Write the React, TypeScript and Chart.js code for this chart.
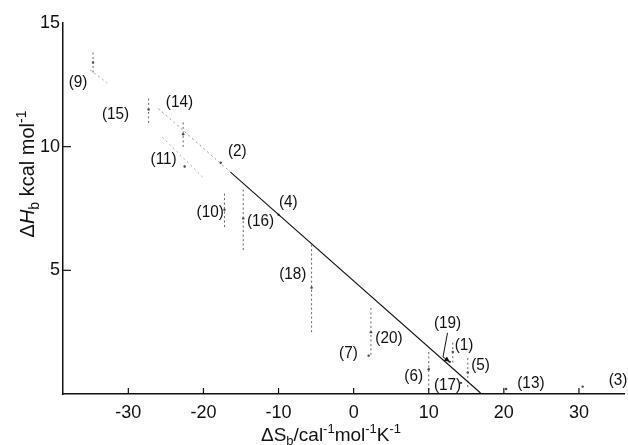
import React, { useEffect, useRef } from "react";
import { Chart, registerables } from "chart.js";

Chart.register(...registerables);

// ---- data ----
const pointLabels = ["(1)", "(2)", "(3)", "(4)", "(5)", "(6)", "(7)", "(9)", "(10)", "(11)", "(13)", "(14)", "(15)", "(16)", "(17)", "(18)", "(19)", "(20)"];
const dS = [13.2, -17.7, 30.5, -10.0, 15.2, 10.0, 2.0, -34.7, -17.2, -22.5, 20.3, -22.7, -27.3, -14.7, 14.3, -5.6, 12.8, 2.3];
const dH = [1.7, 9.35, 0.3, 7.25, 0.87, 1.0, 1.55, 13.4, 7.45, 9.2, 0.2, 10.5, 11.5, 7.1, 0.45, 4.3, 1.3, 2.5];
const errLo = [1.27, null, null, null, 0.28, 0.16, null, 13.0, 6.75, null, null, 9.99, 10.96, 5.82, null, 2.5, null, 1.58];
const errHi = [2.1, null, null, null, 1.46, 1.78, null, 13.83, 8.13, null, null, 11.08, 12.0, 8.37, null, 6.1, null, 3.48];
const labelS = [14.7, -15.5, 35.2, -8.7, 16.9, 8.0, -0.7, -36.7, -19.1, -25.3, 23.6, -23.2, -31.7, -12.4, 12.5, -8.1, 12.5, 4.7];
const labelH = [1.98, 9.8, 0.57, 7.76, 1.17, 0.73, 1.66, 12.6, 7.35, 9.5, 0.44, 11.8, 11.3, 7.0, 0.36, 4.85, 2.87, 2.26];

// faint diagonal error marks
const diagS = [[-35.1, -32.8], [-25.5, -20.1]];
const diagH = [[13.1, 12.58], [10.39, 8.77]];

// regression line (solid) and its faint extension
const fitS = [-16.4, 16.9];
const fitH = [8.97, 0.04];
const extS = [-26.0, -16.4];
const extH = [11.54, 8.97];

// arrow from label (19)
const arrowS = [12.5, 11.9, 12.8];
const arrowH = [2.47, 1.5, 1.3];

const xTicks = [-30, -20, -10, 0, 10, 20, 30];
const yTicks = [5, 10, 15];
const xMin = -38.7, xMax = 36, yMin = 0, yMax = 15;

type Part = { t: string; it?: boolean; sub?: boolean; sup?: boolean };

function drawRich(ctx: CanvasRenderingContext2D, parts: Part[], size: number, cx: number, cy: number, rot: number) {
  const fam = '"Liberation Sans", Arial, sans-serif';
  const fontFor = (p: Part) => `${p.it ? "italic " : ""}${p.sub || p.sup ? Math.round(size * 0.68) : size}px ${fam}`;
  let total = 0;
  const widths = parts.map((p) => {
    ctx.font = fontFor(p);
    const w = ctx.measureText(p.t).width;
    total += w;
    return w;
  });
  ctx.save();
  ctx.translate(cx, cy);
  ctx.rotate(rot);
  ctx.textBaseline = "alphabetic";
  ctx.textAlign = "left";
  ctx.fillStyle = "#111";
  let x = -total / 2;
  const base = size * 0.35;
  parts.forEach((p, i) => {
    ctx.font = fontFor(p);
    let dy = base;
    if (p.sub) dy = base + size * 0.25;
    if (p.sup) dy = base - size * 0.42;
    ctx.fillText(p.t, x, dy);
    x += widths[i];
  });
  ctx.restore();
}

const annotPlugin = {
  id: "annot",
  afterDatasetsDraw(chart: any) {
    const ctx: CanvasRenderingContext2D = chart.ctx;
    const xs = chart.scales.x;
    const ys = chart.scales.y;
    ctx.save();
    // inward tick marks
    ctx.strokeStyle = "#111";
    ctx.lineWidth = 1.2;
    xTicks.forEach((v) => {
      const px = xs.getPixelForValue(v);
      ctx.beginPath();
      ctx.moveTo(px, ys.bottom);
      ctx.lineTo(px, ys.bottom - 6);
      ctx.stroke();
    });
    yTicks.slice(0, 2).forEach((v) => {
      const py = ys.getPixelForValue(v);
      ctx.beginPath();
      ctx.moveTo(xs.left, py);
      ctx.lineTo(xs.left + 8, py);
      ctx.stroke();
    });
    // point labels (slightly condensed, like the original typeface)
    ctx.fillStyle = "#111";
    ctx.font = '17px "Liberation Sans", Arial, sans-serif';
    ctx.textAlign = "center";
    ctx.textBaseline = "middle";
    pointLabels.forEach((t, i) => {
      const px = xs.getPixelForValue(labelS[i]);
      const py = ys.getPixelForValue(labelH[i]);
      ctx.save();
      ctx.translate(px, py);
      ctx.scale(0.9, 1);
      ctx.fillText(t, 0, 0);
      ctx.restore();
    });
    // arrow for (19)
    const ap = arrowS.map((s, i) => [xs.getPixelForValue(s), ys.getPixelForValue(arrowH[i])]);
    ctx.lineWidth = 1;
    ctx.beginPath();
    ctx.moveTo(ap[0][0], ap[0][1]);
    ctx.lineTo(ap[1][0], ap[1][1]);
    ctx.lineTo(ap[2][0], ap[2][1]);
    ctx.stroke();
    const [tx, ty] = ap[2];
    const [fx, fy] = ap[1];
    const ang = Math.atan2(ty - fy, tx - fx);
    ctx.beginPath();
    ctx.moveTo(tx, ty);
    ctx.lineTo(tx - 6 * Math.cos(ang - 0.45), ty - 6 * Math.sin(ang - 0.45));
    ctx.lineTo(tx - 6 * Math.cos(ang + 0.45), ty - 6 * Math.sin(ang + 0.45));
    ctx.closePath();
    ctx.fill();
    ctx.restore();

    // axis titles
    drawRich(ctx, [{ t: "Δ" }, { t: "S" }, { t: "b", sub: true }, { t: "/cal" }, { t: "-1", sup: true }, { t: "mol" }, { t: "-1", sup: true }, { t: "K" }, { t: "-1", sup: true }], 19, 331, 434, 0);
    drawRich(ctx, [{ t: "Δ" }, { t: "H", it: true }, { t: "b", sub: true }, { t: " kcal mol" }, { t: "-1", sup: true }], 20, 27, 174, -Math.PI / 2);
  },
};

export default function App() {
  const ref = useRef<HTMLCanvasElement>(null);
  useEffect(() => {
    document.body.style.margin = "0";
    const bars: any[] = [];
    dS.forEach((s, i) => {
      const lo = errLo[i];
      const hi = errHi[i];
      if (lo !== null && hi !== null) {
        bars.push({ x: s, y: lo }, { x: s, y: hi }, { x: s, y: null });
      }
    });
    const diags: any[] = [];
    diagS.forEach((seg, i) => {
      diags.push({ x: seg[0], y: diagH[i][0] }, { x: seg[1], y: diagH[i][1] }, { x: seg[1], y: null });
    });
    const chart = new Chart(ref.current!, {
      type: "scatter",
      data: {
        datasets: [
          {
            data: fitS.map((s, i) => ({ x: s, y: fitH[i] })),
            showLine: true,
            borderColor: "#111",
            borderWidth: 1.1,
            pointRadius: 0,
          },
          {
            data: extS.map((s, i) => ({ x: s, y: extH[i] })),
            showLine: true,
            borderColor: "#999",
            borderWidth: 1,
            borderDash: [2, 3],
            pointRadius: 0,
          },
          {
            data: bars,
            showLine: true,
            spanGaps: false,
            borderColor: "#666",
            borderWidth: 1,
            borderDash: [2, 2.5],
            pointRadius: 0,
          },
          {
            data: diags,
            showLine: true,
            spanGaps: false,
            borderColor: "#aaa",
            borderWidth: 1,
            borderDash: [2, 3],
            pointRadius: 0,
          },
          {
            data: dS.map((s, i) => ({ x: s, y: dH[i] })),
            pointRadius: 1.2,
            pointBackgroundColor: "#444",
            pointBorderWidth: 0,
          },
        ],
      },
      options: {
        animation: false,
        responsive: false,
        layout: { padding: { top: 23, right: 3, left: 0, bottom: 0 } },
        plugins: { legend: { display: false }, tooltip: { enabled: false } },
        scales: {
          x: {
            type: "linear",
            min: xMin,
            max: xMax,
            grid: { display: false, drawTicks: false },
            border: { display: true, color: "#111", width: 1.5 },
            afterFit: (s: any) => {
              s.height = 51;
            },
            afterBuildTicks: (s: any) => {
              s.ticks = xTicks.map((v) => ({ value: v }));
            },
            ticks: {
              padding: 8,
              color: "#111",
              font: { family: '"Liberation Sans", Arial, sans-serif', size: 18 },
              callback: (v: any) => String(v),
            },
          },
          y: {
            type: "linear",
            min: yMin,
            max: yMax,
            grid: { display: false, drawTicks: false },
            border: { display: true, color: "#111", width: 1.5 },
            afterFit: (s: any) => {
              s.width = 63;
            },
            afterBuildTicks: (s: any) => {
              s.ticks = yTicks.map((v) => ({ value: v }));
            },
            ticks: {
              padding: 3,
              color: "#111",
              font: { family: '"Liberation Sans", Arial, sans-serif', size: 18 },
              callback: (v: any) => String(v),
            },
          },
        },
      },
      plugins: [annotPlugin],
    });
    return () => chart.destroy();
  }, []);
  return (
    <div style={{ width: 628, height: 445 }}>
      <canvas ref={ref} width={628} height={445} />
    </div>
  );
}
